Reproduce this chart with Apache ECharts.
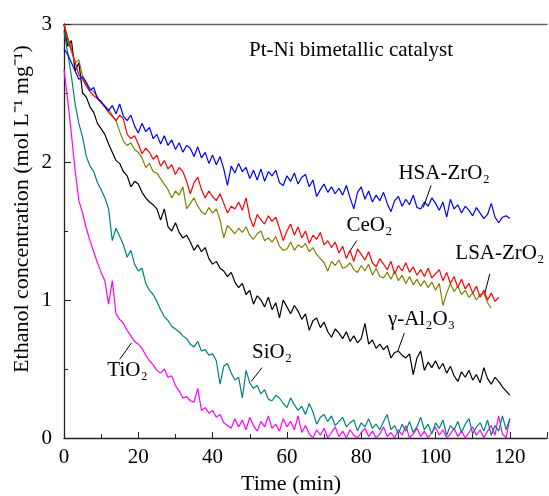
<!DOCTYPE html>
<html><head><meta charset="utf-8">
<script src="https://cdn.jsdelivr.net/npm/echarts@6/dist/echarts.min.js"></script>
<style>html,body{margin:0;padding:0;background:#fff}#c{width:549px;height:496px}</style>
</head><body><div id="c"></div>
<script>
const seriesNames = ['HSA-ZrO₂','CeO₂','LSA-ZrO₂','γ-Al₂O₃','SiO₂','TiO₂'];
const colors = ['#0000ff','#ff0000','#808000','#000000','#008080','#ff00ff'];
const xTicks = [0,20,40,60,80,100,120];
const yTicks = [0,1,2,3];
// time in minutes = index (1 min step)
const hsaZrO2 = [2.82,2.78,2.72,2.66,2.60,2.62,2.57,2.52,2.54,2.46,2.44,2.40,2.37,2.41,2.35,2.42,2.33,2.30,2.34,2.26,2.21,2.28,2.22,2.25,2.17,2.20,2.13,2.19,2.12,2.16,2.09,2.14,2.07,2.12,2.10,2.04,2.11,2.03,2.07,1.99,2.05,1.98,2.04,1.95,1.83,1.97,1.92,1.99,1.93,1.96,1.88,1.94,1.87,1.95,1.86,1.93,1.90,1.94,1.85,1.83,1.90,1.86,1.92,1.84,1.89,1.91,1.82,1.87,1.75,1.80,1.84,1.78,1.82,1.77,1.81,1.76,1.83,1.74,1.66,1.78,1.82,1.73,1.79,1.71,1.76,1.72,1.78,1.70,1.64,1.72,1.75,1.68,1.73,1.69,1.76,1.67,1.66,1.71,1.68,1.74,1.70,1.65,1.71,1.60,1.73,1.66,1.69,1.63,1.68,1.65,1.61,1.67,1.63,1.59,1.62,1.70,1.60,1.56,1.60,1.61,1.59];
const ceO2 = [3.00,2.90,2.82,2.72,2.63,2.60,2.55,2.51,2.48,2.46,2.43,2.40,2.36,2.33,2.30,2.34,2.31,2.20,2.17,2.19,2.13,2.06,2.10,2.07,2.02,2.05,1.97,2.01,1.95,1.98,1.91,1.96,1.93,1.86,1.77,1.85,1.89,1.80,1.74,1.79,1.75,1.72,1.77,1.70,1.63,1.68,1.66,1.71,1.65,1.74,1.60,1.53,1.62,1.58,1.55,1.61,1.57,1.60,1.52,1.43,1.50,1.55,1.47,1.53,1.45,1.50,1.41,1.47,1.44,1.49,1.40,1.43,1.38,1.42,1.34,1.39,1.30,1.36,1.28,1.37,1.33,1.29,1.35,1.27,1.24,1.30,1.26,1.22,1.28,1.19,1.25,1.21,1.27,1.20,1.24,1.18,1.22,1.17,1.23,1.16,1.19,1.22,1.14,1.20,1.12,1.17,1.09,1.15,1.08,1.12,1.05,1.10,1.02,1.07,1.00,1.05,0.99,1.02];
const lsaZrO2 = [3.00,2.88,2.80,2.72,2.74,2.62,2.58,2.53,2.51,2.47,2.43,2.41,2.38,2.34,2.30,2.22,2.15,2.12,2.14,2.09,2.07,2.03,1.96,1.99,1.93,1.92,1.88,1.84,1.80,1.74,1.79,1.76,1.82,1.66,1.70,1.74,1.68,1.64,1.62,1.67,1.63,1.66,1.58,1.45,1.54,1.51,1.48,1.52,1.49,1.53,1.47,1.44,1.48,1.50,1.43,1.45,1.42,1.46,1.39,1.36,1.37,1.42,1.36,1.40,1.38,1.41,1.35,1.38,1.33,1.30,1.27,1.21,1.28,1.25,1.29,1.23,1.24,1.27,1.22,1.20,1.25,1.21,1.26,1.18,1.23,1.17,1.16,1.20,1.15,1.21,1.14,1.18,1.12,1.17,1.11,1.15,1.10,1.14,1.09,1.13,1.07,1.12,0.96,1.05,1.12,1.06,1.10,1.04,1.07,1.02,1.05,1.00,1.04,1.05,0.98,0.94];
const gAl2O3 = [3.00,2.84,2.88,2.66,2.72,2.50,2.47,2.40,2.36,2.28,2.24,2.20,2.13,2.07,2.01,1.99,1.93,1.90,1.82,1.86,1.84,1.78,1.74,1.71,1.69,1.66,1.58,1.66,1.53,1.50,1.56,1.49,1.45,1.47,1.42,1.36,1.40,1.35,1.38,1.30,1.26,1.28,1.23,1.21,1.17,1.20,1.13,1.09,1.12,1.04,1.07,0.97,1.03,1.00,0.95,1.02,0.93,0.98,0.87,1.00,0.95,0.90,0.96,0.92,0.86,0.90,0.78,0.85,0.87,0.80,0.84,0.77,0.73,0.79,0.76,0.72,0.77,0.70,0.74,0.69,0.72,0.83,0.68,0.71,0.65,0.68,0.64,0.67,0.58,0.62,0.63,0.60,0.58,0.61,0.46,0.58,0.63,0.49,0.55,0.51,0.56,0.50,0.54,0.47,0.52,0.45,0.41,0.48,0.44,0.49,0.42,0.46,0.40,0.51,0.43,0.39,0.44,0.41,0.37,0.34,0.31];
const siO2 = [2.95,2.79,2.62,2.42,2.28,2.18,2.04,1.97,1.93,1.85,1.80,1.74,1.66,1.43,1.52,1.46,1.40,1.31,1.36,1.26,1.21,1.23,1.12,1.07,1.04,0.99,0.93,0.88,0.85,0.81,0.79,0.77,0.74,0.72,0.68,0.66,0.70,0.63,0.64,0.60,0.61,0.56,0.39,0.52,0.54,0.47,0.42,0.44,0.29,0.49,0.40,0.36,0.38,0.32,0.35,0.28,0.27,0.31,0.29,0.25,0.22,0.29,0.24,0.20,0.23,0.17,0.25,0.19,0.10,0.15,0.17,0.12,0.16,0.09,0.12,0.15,0.08,0.11,0.13,0.05,0.11,0.08,0.14,0.07,0.10,0.06,0.12,0.17,0.06,0.09,0.03,0.10,0.05,0.12,0.04,0.08,0.15,0.06,0.10,0.03,0.11,0.07,0.13,0.02,0.09,0.06,0.12,0.04,0.10,0.14,0.03,0.08,0.11,0.05,0.13,0.02,0.09,0.05,0.16,0.06,0.14];
const tiO2 = [2.67,2.45,2.20,1.94,1.72,1.63,1.52,1.43,1.35,1.27,1.20,1.14,0.97,1.14,0.90,0.86,0.83,0.78,0.74,0.70,0.68,0.65,0.60,0.56,0.53,0.49,0.47,0.50,0.44,0.45,0.38,0.34,0.29,0.30,0.27,0.26,0.36,0.20,0.22,0.18,0.20,0.15,0.17,0.11,0.09,0.07,0.14,0.08,0.13,0.06,0.15,0.09,0.05,0.12,0.08,0.16,0.07,0.10,0.05,0.14,0.08,0.12,0.06,0.16,0.04,0.09,0.03,0.00,0.06,0.02,0.07,0.00,0.04,0.08,0.01,0.05,0.00,0.06,0.02,0.00,0.04,0.07,0.01,0.05,0.00,0.03,0.08,0.01,0.04,0.00,0.06,0.02,0.09,0.00,0.03,0.07,0.01,0.05,0.00,0.04,0.08,0.02,0.06,0.00,0.03,0.07,0.01,0.05,0.00,0.04,0.08,0.02,0.06,0.00,0.05,0.09,0.02,0.16,0.03,0.00,0.14];
const allSeries = [hsaZrO2, ceO2, lsaZrO2, gAl2O3, siO2, tiO2];
// annotation anchors (data units): label centre, leader line start, leader line end
const labelAt = [[102.3,1.92],[82.2,1.54],[117.3,1.34],[96.2,0.86],[56.0,0.62],[17.1,0.49]];
const leaderFrom = [[98.8,1.83],[78.8,1.43],[114.6,1.19],[91.6,0.76],[53.3,0.51],[18.2,0.69]];
const leaderTo = [[96.7,1.67],[76.6,1.34],[113.3,1.05],[89.7,0.62],[50.4,0.41],[15.0,0.57]];

const FONT = 'Liberation Serif';
const chart = echarts.init(document.getElementById('c'), null, {renderer:'canvas'});
const axisCol = '#222';
const series = allSeries.map((arr,i)=>({
  name: seriesNames[i], type:'line', showSymbol:false, symbol:'none',
  data: arr.map((v,k)=>[k,v]),
  lineStyle:{color:colors[i], width:1.2}, itemStyle:{color:colors[i]},
  z: 10 - i,
  markLine: {silent:true, symbol:['none','none'], animation:false,
    lineStyle:{color:'#000', width:1, type:'solid'}, label:{show:false},
    data:[[{coord:leaderFrom[i]},{coord:leaderTo[i]}]]}
}));
chart.setOption({
  animation:false,
  backgroundColor:'#fff',
  grid:{left:64, right:2, top:24, bottom:58},
  xAxis:[{type:'value', min:0, max:130, interval:20,
    axisLine:{lineStyle:{color:axisCol, width:1.3}},
    axisTick:{inside:true, length:6, lineStyle:{color:axisCol}},
    minorTick:{show:true, splitNumber:2, length:4, lineStyle:{color:axisCol}},
    splitLine:{show:false},
    axisLabel:{showMaxLabel:false, margin:9, fontFamily:FONT, fontSize:21, color:'#000',
      formatter:v=> xTicks.indexOf(v)>=0 ? String(v) : ''}},
   {type:'value', position:'top', min:0, max:130, axisLine:{show:true, lineStyle:{color:'#666', width:1.3}},
    axisTick:{show:false}, axisLabel:{show:false}, splitLine:{show:false}}],
  yAxis:{type:'value', min:0, max:3, interval:1,
    axisLine:{show:true, lineStyle:{color:axisCol, width:1.3}},
    axisTick:{inside:true, length:7, lineStyle:{color:axisCol}},
    minorTick:{show:true, splitNumber:2, length:4, lineStyle:{color:axisCol}},
    splitLine:{show:false},
    axisLabel:{margin:12, fontFamily:FONT, fontSize:21, color:'#000',
      formatter:v=> yTicks.indexOf(v)>=0 ? String(v) : ''}},
  series: series
});
const g = [];
labelAt.forEach((p,i)=>{
  const px = chart.convertToPixel({gridIndex:0}, p);
  g.push({type:'text', x:px[0], y:px[1], z:100,
    style:{text:seriesNames[i], fontFamily:FONT, fontSize:21, fill:'#000', textAlign:'center', textVerticalAlign:'middle'}});
});
g.push({type:'text', x:249, y:50, style:{text:'Pt-Ni bimetallic catalyst', fontFamily:FONT, fontSize:21, fill:'#000', textAlign:'left', textVerticalAlign:'middle'}});
g.push({type:'text', x:291, y:484, style:{text:'Time (min)', fontFamily:FONT, fontSize:22, fill:'#000', textAlign:'center', textVerticalAlign:'middle'}});
g.push({type:'text', x:22, y:209, rotation:Math.PI/2, style:{text:'Ethanol concentration (mol L⁻¹ mg⁻¹)', fontFamily:FONT, fontSize:22, fill:'#000', textAlign:'center', textVerticalAlign:'middle'}});
chart.setOption({graphic:g});
</script></body></html>
